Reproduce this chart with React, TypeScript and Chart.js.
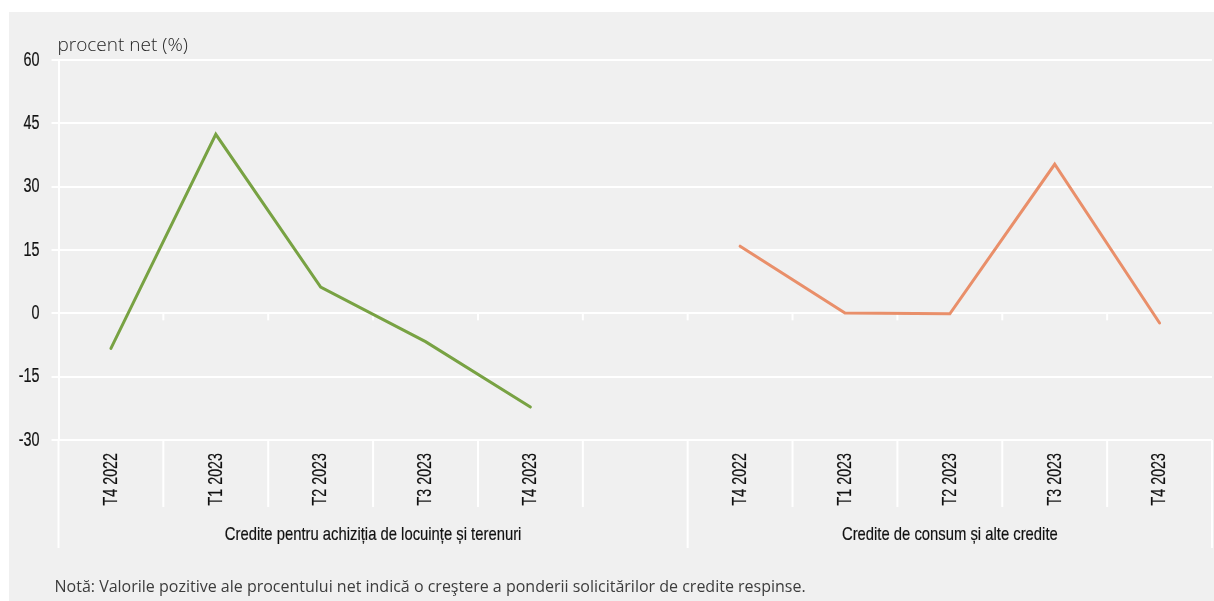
import { useEffect, useRef } from "react";
import { Chart, registerables } from "chart.js";

Chart.register(...registerables);

// Quarters for the two credit groups, separated by one empty slot
const categories = [
  "T4 2022", "T1 2023", "T2 2023", "T3 2023", "T4 2023",
  "",
  "T4 2022", "T1 2023", "T2 2023", "T3 2023", "T4 2023",
];

// Net percentage, housing loans (first group)
const housingValues = [-8.3, 42.4, 6.2, -6.7, -22.2, null, null, null, null, null, null];
// Net percentage, consumer and other loans (second group)
const consumerValues = [null, null, null, null, null, null, 15.9, 0.1, -0.1, 35.3, -2.3];

const yTicks = [60, 45, 30, 15, 0, -15, -30];

const groupLabels = [
  "Credite pentru achiziția de locuințe și terenuri",
  "Credite de consum și alte credite",
];
// Category index where each group starts; the last entry closes the final group
const groupBounds = [0, 6, 11];

const unitLabel = "procent net (%)";
const noteText =
  "Notă: Valorile pozitive ale procentului net indică o creştere a ponderii solicitărilor de credite respinse.";

const SANS = "'Liberation Sans', Arial, sans-serif";
const REGULAR = "'Open Sans', 'Noto Sans', sans-serif";
const INK = "#111111";

// Draws text squeezed along its own direction to get a condensed face
function narrowText(
  ctx: CanvasRenderingContext2D,
  text: string,
  x: number,
  y: number,
  opts: { size: number; squeeze: number; align: CanvasTextAlign; rotate?: boolean }
) {
  ctx.save();
  ctx.translate(x, y);
  if (opts.rotate) ctx.rotate(-Math.PI / 2);
  ctx.scale(opts.squeeze, 1);
  ctx.font = `${opts.size}px ${SANS}`;
  ctx.textAlign = opts.align;
  ctx.textBaseline = "middle";
  ctx.fillStyle = INK;
  ctx.strokeStyle = INK;
  ctx.lineWidth = 0.2;
  ctx.fillText(text, 0, 0);
  ctx.strokeText(text, 0, 0);
  ctx.restore();
}

const decorPlugin = {
  id: "decor",
  beforeDatasetsDraw(chart: any) {
    const { ctx, chartArea, scales } = chart;
    const n = categories.length;
    const step = (chartArea.right - chartArea.left) / n;
    const y0 = scales.y.getPixelForValue(0);
    const bottom = chartArea.bottom;
    const line = (x1: number, y1: number, x2: number, y2: number) => {
      ctx.beginPath();
      ctx.moveTo(x1, y1);
      ctx.lineTo(x2, y2);
      ctx.stroke();
    };
    ctx.save();
    ctx.strokeStyle = "#ffffff";
    ctx.lineWidth = 2;
    for (let i = 0; i <= n; i++) {
      const bx = chartArea.left + i * step;
      if (i > 0 && i < n) line(bx, y0, bx, y0 + 7);
      const long = groupBounds.includes(i);
      line(bx, bottom, bx, bottom + (long ? 108 : 67));
    }
    ctx.restore();
  },
  afterDraw(chart: any) {
    const { ctx, chartArea, scales } = chart;
    const n = categories.length;
    const step = (chartArea.right - chartArea.left) / n;

    // value axis labels
    for (const t of scales.y.ticks) {
      narrowText(ctx, String(t.value), chartArea.left - 19, scales.y.getPixelForValue(t.value), {
        size: 20,
        squeeze: 0.72,
        align: "right",
      });
    }
    // quarter labels, vertical
    categories.forEach((label, i) => {
      if (!label) return;
      narrowText(ctx, label, scales.x.getPixelForValue(i), chartArea.bottom + 13, {
        size: 21,
        squeeze: 0.68,
        align: "right",
        rotate: true,
      });
    });
    // group captions
    for (let g = 0; g < groupLabels.length; g++) {
      const a = chartArea.left + groupBounds[g] * step;
      const b = chartArea.left + groupBounds[g + 1] * step;
      narrowText(ctx, groupLabels[g], (a + b) / 2, chartArea.bottom + 95, {
        size: 19,
        squeeze: 0.78,
        align: "center",
      });
    }

    ctx.save();
    ctx.textBaseline = "middle";
    ctx.textAlign = "left";
    ctx.fillStyle = "#1f1f1f";
    ctx.font = `300 19px ${REGULAR}`;
    ctx.fillText(unitLabel, chartArea.left - 1, chartArea.top - 14);
    ctx.fillStyle = "#3c3c3c";
    ctx.font = `16px ${REGULAR}`;
    ctx.fillText(noteText, chartArea.left - 4, chartArea.bottom + 147);
    ctx.restore();
  },
};

function CreditChart() {
  const canvasRef = useRef<HTMLCanvasElement | null>(null);

  useEffect(() => {
    const canvas = canvasRef.current;
    if (!canvas) return;
    const chart = new Chart(canvas, {
      type: "line",
      data: {
        labels: categories,
        datasets: [
          {
            data: housingValues,
            borderColor: "#78a243",
            borderWidth: 3,
            pointRadius: 0,
            borderCapStyle: "round",
            spanGaps: false,
          },
          {
            data: consumerValues,
            borderColor: "#e98f6a",
            borderWidth: 3,
            pointRadius: 0,
            borderCapStyle: "round",
            spanGaps: false,
          },
        ],
      },
      options: {
        animation: false,
        responsive: false,
        layout: { padding: { top: 48, left: 0, right: 2, bottom: 0 } },
        plugins: {
          legend: { display: false },
          tooltip: { enabled: false },
        },
        scales: {
          x: {
            type: "category",
            offset: true,
            grid: { display: false, drawTicks: false },
            border: { display: false },
            ticks: { display: false, autoSkip: false },
            afterFit: (scale: any) => {
              scale.height = 161;
            },
          },
          y: {
            min: -30,
            max: 60,
            afterBuildTicks: (scale: any) => {
              scale.ticks = yTicks.map((v) => ({ value: v }));
            },
            grid: {
              color: "#ffffff",
              lineWidth: 2,
              tickLength: 7,
              drawTicks: true,
            },
            border: { display: true, color: "#ffffff", width: 2 },
            ticks: { display: false },
            afterFit: (scale: any) => {
              scale.width = 49.5;
            },
          },
        },
      },
      plugins: [decorPlugin],
    });
    return () => chart.destroy();
  }, []);

  return (
    <div
      style={{
        position: "absolute",
        left: 9,
        top: 12,
        width: 1205,
        height: 589,
        background: "#f0f0f0",
      }}
    >
      <canvas ref={canvasRef} width={1205} height={589} style={{ display: "block" }} />
    </div>
  );
}

export default function App() {
  return <CreditChart />;
}
